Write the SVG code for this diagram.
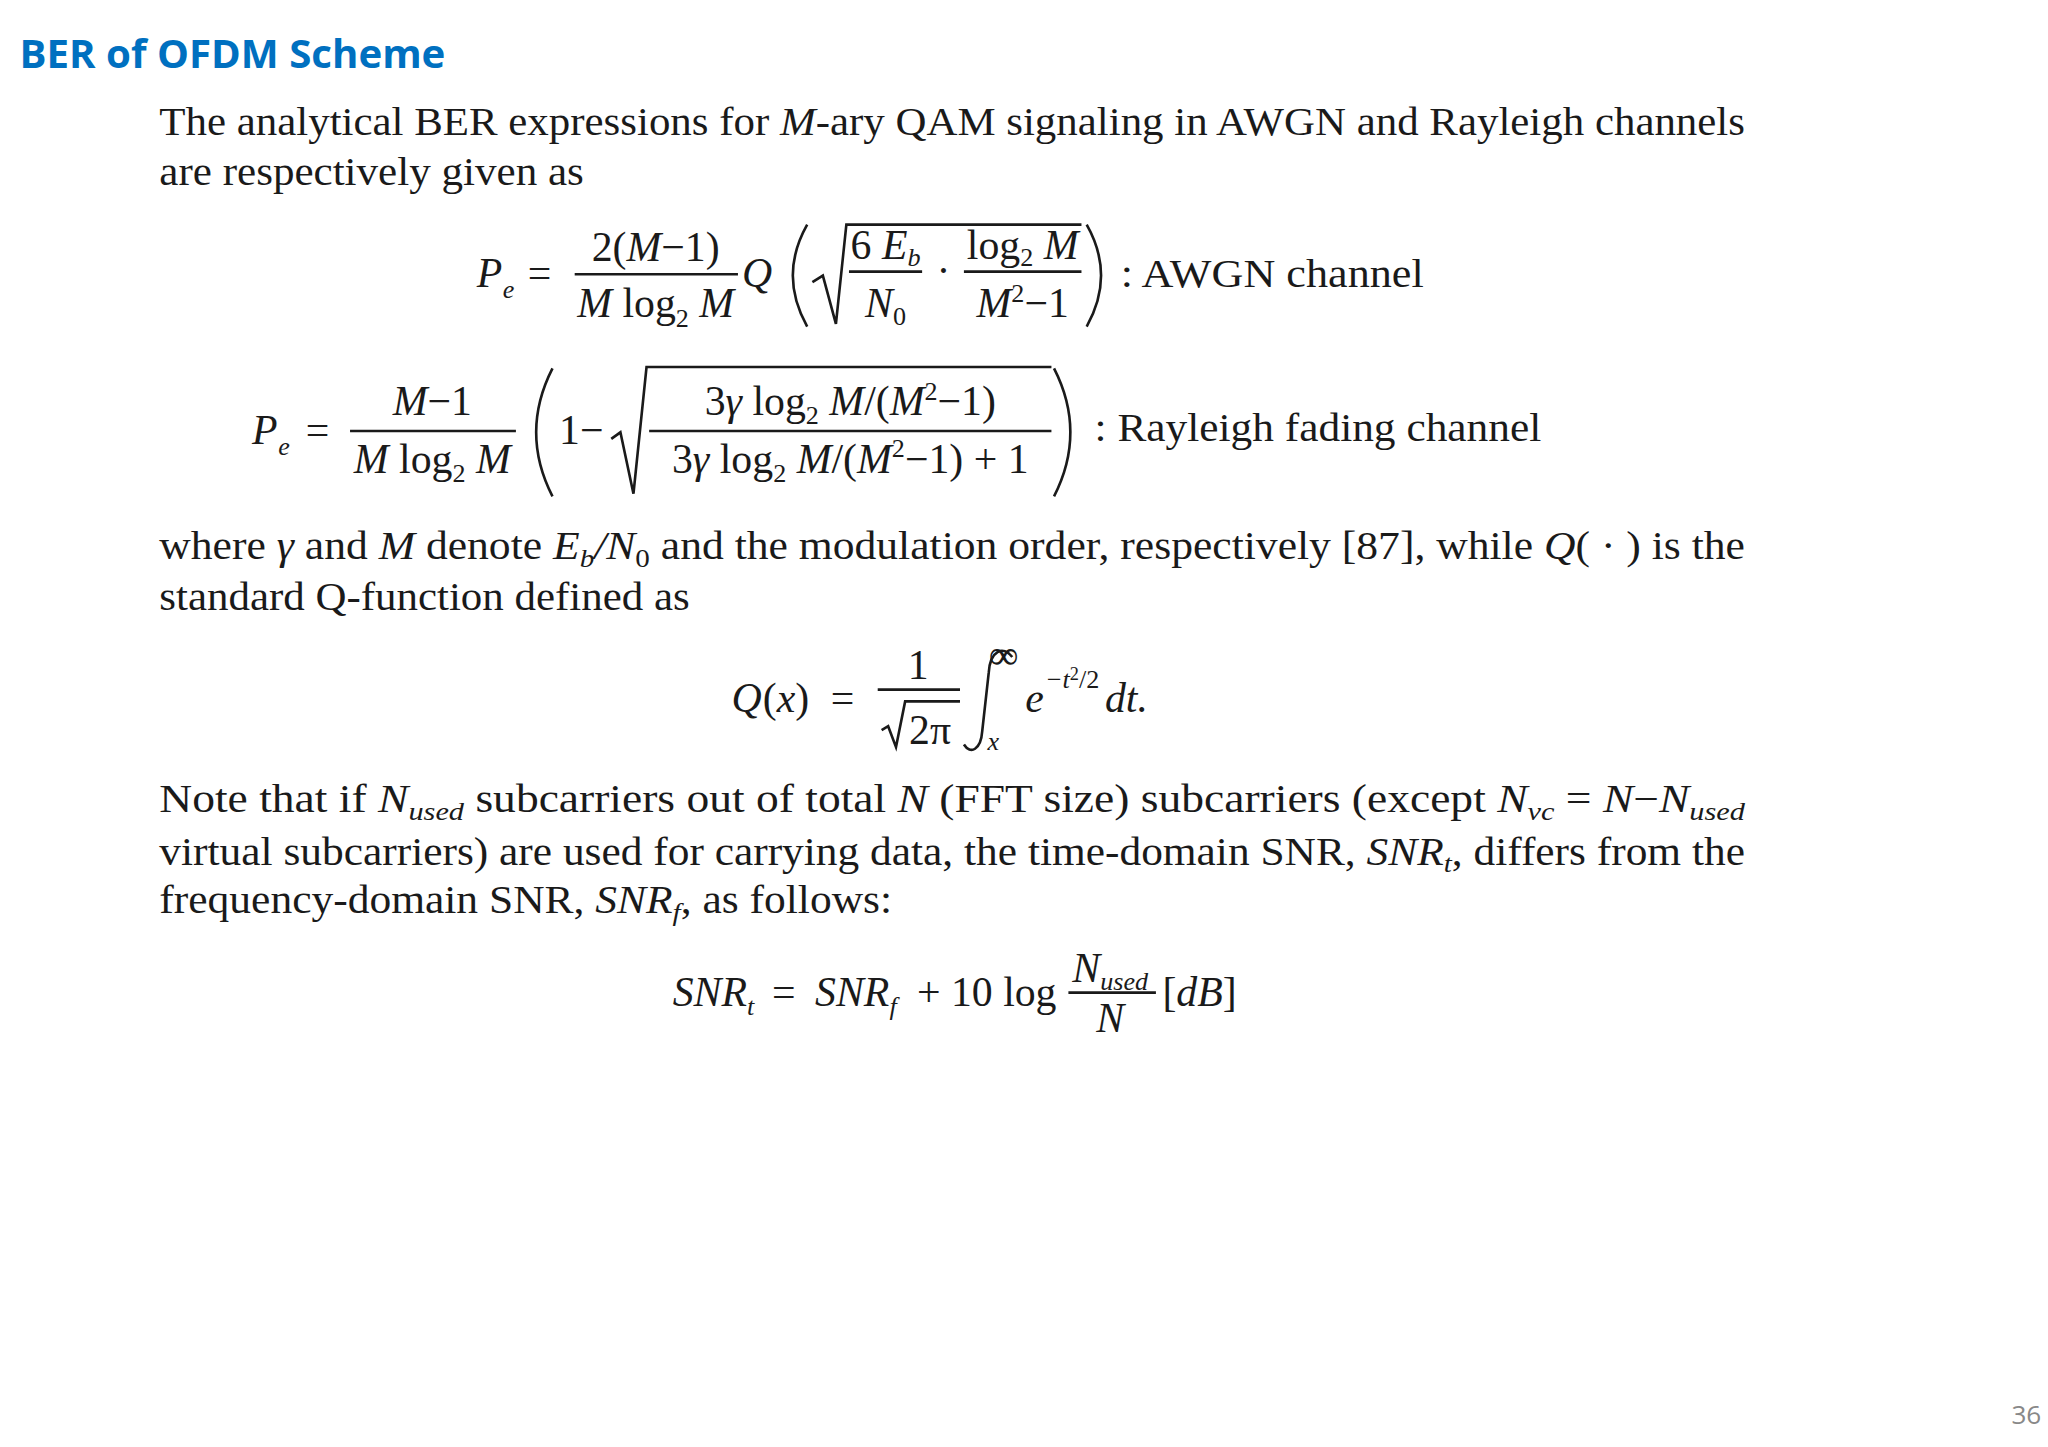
<svg xmlns="http://www.w3.org/2000/svg" width="2048" height="1447" viewBox="0 0 2048 1447">
<style>
.t{font-family:"Liberation Serif","Times New Roman",serif;font-size:30px;fill:#1a1a1a}
.m{font-family:"Liberation Serif","Times New Roman",serif;font-size:32px;fill:#1a1a1a}
.i{font-style:italic}
.s{font-size:20px}
.mid{text-anchor:middle}
.ln{stroke:#1a1a1a;stroke-width:2;fill:none}
</style>
<rect width="2048" height="1447" fill="#ffffff"/>
<g transform="scale(1.30612)">
<g id="title"><text x="15" y="52" font-family="'Open Sans',sans-serif" font-weight="bold" font-size="30" fill="#0070C0" textLength="326" lengthAdjust="spacingAndGlyphs">BER of OFDM Scheme</text></g>
<g id="para1">
<text class="t" x="122" y="103" textLength="1214" lengthAdjust="spacingAndGlyphs">The analytical BER expressions for <tspan class="i">M</tspan>-ary QAM signaling in AWGN and Rayleigh channels</text>
<text class="t" x="122" y="142" textLength="325" lengthAdjust="spacingAndGlyphs">are respectively given as</text>
</g>
<g id="eq1">
<text class="m i" x="365" y="220">P</text><text class="m i s" x="385" y="228">e</text>
<text class="m" x="404" y="220">=</text>
<text class="m mid" x="502" y="200">2(<tspan class="i">M</tspan>−1)</text>
<line class="ln" x1="440" y1="210" x2="565" y2="210"/>
<text class="m mid" x="502" y="243"><tspan class="i">M</tspan> log<tspan class="s" dy="7">2</tspan><tspan dy="-7" class="i"> M</tspan></text>
<text class="m i" x="568" y="220">Q</text>
<path class="ln" d="M618,172 Q596,211 618,250" stroke-width="2.5"/>
<path class="ln" d="M622,216 L630,211 L640,248 L648,172 L828,172"/>
<text class="m mid" x="678" y="198" font-size="28">6 <tspan class="i">E</tspan><tspan class="i s" dy="6">b</tspan></text>
<line class="ln" x1="650" y1="208" x2="706" y2="208"/>
<text class="m mid i" x="678" y="243" font-size="28">N<tspan class="s" dy="6" font-style="normal">0</tspan></text>
<text class="m" x="717" y="218">·</text>
<text class="m mid" x="783" y="198" font-size="28">log<tspan class="s" dy="6">2</tspan><tspan dy="-6" class="i"> M</tspan></text>
<line class="ln" x1="738" y1="208" x2="828" y2="208"/>
<text class="m mid" x="783" y="243" font-size="28"><tspan class="i">M</tspan><tspan class="s" dy="-12">2</tspan><tspan dy="12">−1</tspan></text>
<path class="ln" d="M832,172 Q854,211 832,250" stroke-width="2.5"/>
<text class="t" x="858" y="220" textLength="232" lengthAdjust="spacingAndGlyphs">: AWGN channel</text>
</g>
<g id="eq2">
<text class="m i" x="193" y="340">P</text><text class="m i s" x="213" y="348">e</text>
<text class="m" x="234" y="340">=</text>
<text class="m mid" x="331" y="318"><tspan class="i">M</tspan>−1</text>
<line class="ln" x1="268" y1="330" x2="395" y2="330"/>
<text class="m mid" x="331" y="362"><tspan class="i">M</tspan> log<tspan class="s" dy="7">2</tspan><tspan dy="-7" class="i"> M</tspan></text>
<path class="ln" d="M423,282 Q398,331 423,380" stroke-width="2.5"/>
<text class="m" x="428" y="340">1−</text>
<path class="ln" d="M468,336 L475,331 L485,378 L495,281 L805,281"/>
<text class="m mid" x="651" y="318">3<tspan class="i">γ</tspan> log<tspan class="s" dy="7">2</tspan><tspan dy="-7" class="i"> M</tspan>/(<tspan class="i">M</tspan><tspan class="s" dy="-12">2</tspan><tspan dy="12">−1)</tspan></text>
<line class="ln" x1="497" y1="330" x2="805" y2="330"/>
<text class="m mid" x="651" y="362">3<tspan class="i">γ</tspan> log<tspan class="s" dy="7">2</tspan><tspan dy="-7" class="i"> M</tspan>/(<tspan class="i">M</tspan><tspan class="s" dy="-12">2</tspan><tspan dy="12">−1) + 1</tspan></text>
<path class="ln" d="M807,282 Q832,331 807,380" stroke-width="2.5"/>
<text class="t" x="838" y="338" textLength="342" lengthAdjust="spacingAndGlyphs">: Rayleigh fading channel</text>
</g>
<g id="para2">
<text class="t" x="122" y="428" textLength="1214" lengthAdjust="spacingAndGlyphs">where <tspan class="i">γ</tspan> and <tspan class="i">M</tspan> denote <tspan class="i">E</tspan><tspan class="i s" dy="6">b</tspan><tspan class="i" dy="-6">/N</tspan><tspan class="s" dy="6">0</tspan><tspan dy="-6"> and the modulation order, respectively [87], while </tspan><tspan class="i">Q</tspan>( · ) is the</text>
<text class="t" x="122" y="467" textLength="406" lengthAdjust="spacingAndGlyphs">standard Q-function defined as</text>
</g>
<g id="eq3">
<text class="m i" x="560" y="545">Q</text><text class="m" x="584" y="545">(<tspan class="i">x</tspan>)</text>
<text class="m" x="636" y="545">=</text>
<text class="m mid" x="703" y="520">1</text>
<line class="ln" x1="672" y1="528" x2="735" y2="528"/>
<path class="ln" d="M675,559 L680,556 L686,572 L693,537 L735,537" stroke-width="1.8"/>
<text class="m" x="696" y="570">2π</text>
<path class="ln" d="M775,503 C768,494 758,498 757,515 L752,560 C751,574 743,578 738,570" stroke-width="2.5"/>
<text class="m" x="757" y="512" font-size="22">∞</text>
<text class="m i s" x="756" y="574">x</text>
<text class="m i" x="785" y="545">e</text>
<text class="m i s" x="800" y="527">−t<tspan dy="-6" font-size="14" font-style="normal">2</tspan><tspan dy="6" font-style="normal">/2</tspan></text>
<text class="m i" x="846" y="545">dt.</text>
</g>
<g id="para3">
<text class="t" x="122" y="622" textLength="1214" lengthAdjust="spacingAndGlyphs">Note that if <tspan class="i">N</tspan><tspan class="i s" dy="6">used</tspan><tspan dy="-6"> subcarriers out of total </tspan><tspan class="i">N</tspan> (FFT size) subcarriers (except <tspan class="i">N</tspan><tspan class="i s" dy="6">vc</tspan><tspan dy="-6"> = </tspan><tspan class="i">N</tspan>−<tspan class="i">N</tspan><tspan class="i s" dy="6">used</tspan></text>
<text class="t" x="122" y="662" textLength="1214" lengthAdjust="spacingAndGlyphs">virtual subcarriers) are used for carrying data, the time-domain SNR, <tspan class="i">SNR</tspan><tspan class="i s" dy="6">t</tspan><tspan dy="-6">, differs from the</tspan></text>
<text class="t" x="122" y="699" textLength="561" lengthAdjust="spacingAndGlyphs">frequency-domain SNR, <tspan class="i">SNR</tspan><tspan class="i s" dy="6">f</tspan><tspan dy="-6">, as follows:</tspan></text>
</g>
<g id="eq4">
<text class="m i" x="515" y="770">SNR</text><text class="m i s" x="572" y="777">t</text>
<text class="m" x="591" y="770">=</text>
<text class="m i" x="624" y="770">SNR</text><text class="m i s" x="681" y="777">f</text>
<text class="m" x="702" y="770">+ 10 log</text>
<text class="m mid i" x="850" y="752" font-size="28">N<tspan class="s" dy="6">used</tspan></text>
<line class="ln" x1="818" y1="760" x2="885" y2="760"/>
<text class="m mid i" x="850" y="790" font-size="28">N</text>
<text class="m" x="890" y="770">[<tspan class="i">dB</tspan>]</text>
</g>
<g id="page"><text x="1540" y="1090" font-family="'Open Sans',sans-serif" font-size="20" fill="#888888">36</text></g>
</g>
</svg>
